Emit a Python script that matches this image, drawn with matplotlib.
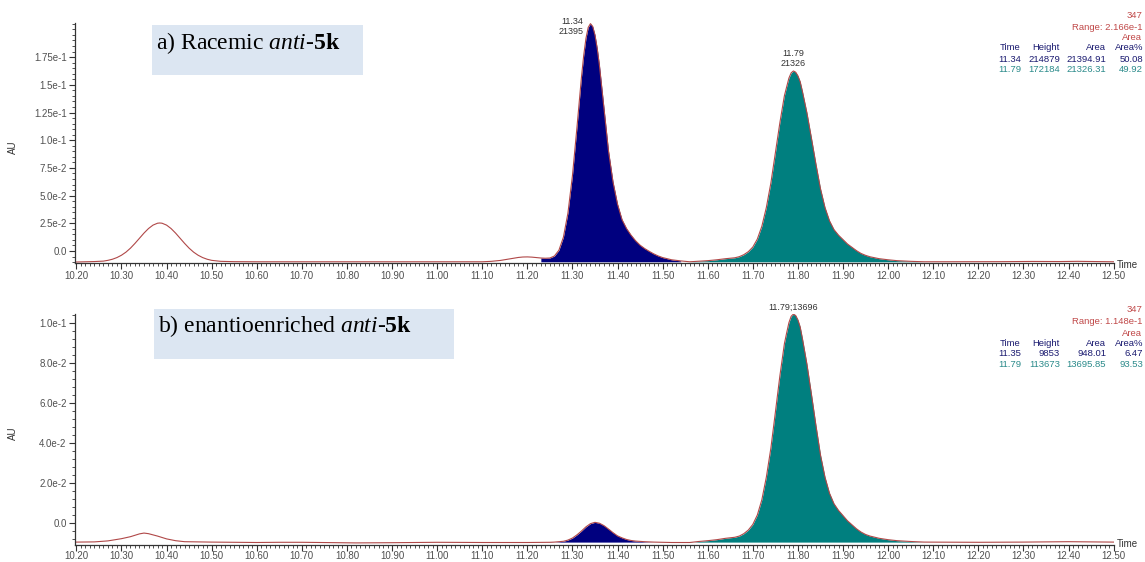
import numpy as np
import matplotlib
matplotlib.use('Agg')
import matplotlib.pyplot as plt
from matplotlib.patches import Rectangle
from matplotlib.ticker import MultipleLocator, FixedLocator, FixedFormatter, FormatStrFormatter

plt.rcParams['font.family'] = ['Liberation Sans', 'DejaVu Sans']
plt.rcParams['mathtext.fontset'] = 'custom'
plt.rcParams['mathtext.rm'] = 'Liberation Serif'
plt.rcParams['mathtext.it'] = 'Liberation Serif:italic'
plt.rcParams['mathtext.bf'] = 'Liberation Serif:bold'

# ---- run a) racemic : time (min) / signal above baseline (AU)
t_a = [10.20, 10.22, 10.24, 10.26, 10.27, 10.28, 10.29, 10.30, 10.31, 10.32, 10.33, 10.34,
       10.35, 10.36, 10.37, 10.38, 10.385, 10.39, 10.40, 10.41, 10.42, 10.43, 10.44, 10.45,
       10.46, 10.47, 10.48, 10.49, 10.50, 10.52, 10.55, 10.60, 10.70, 10.75, 10.80, 10.90,
       11.00, 11.05, 11.10, 11.12, 11.14, 11.16, 11.18, 11.19, 11.20, 11.21, 11.22, 11.23,
       11.24, 11.25, 11.26, 11.27, 11.28, 11.29, 11.30, 11.31, 11.32, 11.325, 11.33, 11.335,
       11.34, 11.345, 11.35, 11.355, 11.36, 11.37, 11.38, 11.39, 11.40, 11.41, 11.42, 11.43,
       11.44, 11.45, 11.46, 11.47, 11.48, 11.49, 11.50, 11.52, 11.54, 11.56, 11.58, 11.60,
       11.62, 11.64, 11.66, 11.67, 11.68, 11.69, 11.70, 11.71, 11.72, 11.73, 11.74, 11.75,
       11.76, 11.77, 11.775, 11.78, 11.785, 11.79, 11.795, 11.80, 11.805, 11.81, 11.82, 11.83,
       11.84, 11.85, 11.86, 11.87, 11.88, 11.89, 11.90, 11.91, 11.92, 11.93, 11.94, 11.95,
       11.96, 11.98, 12.00, 12.02, 12.05, 12.08, 12.15, 12.25, 12.32, 12.38, 12.42, 12.46,
       12.50]
s_a = [-0.0002, 0.0, 0.0002, 0.0006, 0.0013, 0.0023, 0.0038, 0.0059, 0.0087, 0.0123, 0.0166, 0.0212,
       0.0259, 0.0300, 0.0331, 0.0348, 0.0350, 0.0348, 0.0331, 0.0300, 0.0259, 0.0212, 0.0166, 0.0123,
       0.0087, 0.0059, 0.0038, 0.0023, 0.0013, 0.0004, 0.0001, 0.0, 0.0, -0.0001, 0.0, 0.0,
       0.0, 0.0001, 0.0, 0.0004, 0.0012, 0.0025, 0.0039, 0.0043, 0.0044, 0.0042, 0.0038, 0.0034,
       0.0032, 0.0034, 0.0052, 0.0104, 0.0222, 0.0439, 0.0776, 0.1211, 0.1665, 0.1862, 0.2016, 0.2115,
       0.2149, 0.2123, 0.2047, 0.1925, 0.1768, 0.1385, 0.1000, 0.0720, 0.0520, 0.0380, 0.0300, 0.0240,
       0.0190, 0.0150, 0.0120, 0.0095, 0.0072, 0.0053, 0.0038, 0.0018, 0.0008, 0.0, 0.0005, 0.0010,
       0.0018, 0.0028, 0.0036, 0.0046, 0.0064, 0.0091, 0.0133, 0.0205, 0.0320, 0.0490, 0.0710, 0.0980,
       0.1255, 0.1498, 0.1579, 0.1657, 0.1705, 0.1722, 0.1711, 0.1678, 0.1625, 0.1537, 0.1343, 0.1115,
       0.0880, 0.0660, 0.0490, 0.0370, 0.0290, 0.0240, 0.0200, 0.0160, 0.0130, 0.0100, 0.0075, 0.0058,
       0.0045, 0.0028, 0.0018, 0.0010, 0.0004, 0.0, 0.0, 0.0001, 0.0003, 0.0002, 0.0004, 0.0002,
       0.0]
base_a = -0.0097
win_a = [(11.23, 11.54), (11.56, 12.08)]

# ---- run b) enantioenriched
t_b = [10.20, 10.24, 10.27, 10.30, 10.32, 10.34, 10.35, 10.36, 10.38, 10.40, 10.42, 10.44,
       10.50, 10.60, 10.65, 10.70, 10.78, 10.82, 10.90, 11.00, 11.10, 11.20, 11.25, 11.26,
       11.27, 11.28, 11.29, 11.30, 11.31, 11.32, 11.33, 11.34, 11.35, 11.36, 11.37, 11.38,
       11.39, 11.40, 11.41, 11.42, 11.43, 11.44, 11.46, 11.48, 11.52, 11.56, 11.58, 11.60,
       11.62, 11.64, 11.66, 11.67, 11.68, 11.69, 11.70, 11.71, 11.72, 11.73, 11.74, 11.75,
       11.76, 11.77, 11.775, 11.78, 11.785, 11.79, 11.795, 11.80, 11.805, 11.81, 11.82, 11.83,
       11.84, 11.85, 11.86, 11.87, 11.88, 11.89, 11.90, 11.91, 11.92, 11.93, 11.94, 11.95,
       11.96, 11.98, 12.00, 12.02, 12.05, 12.08, 12.20, 12.30, 12.40, 12.50]
s_b = [0.0, 0.0001, 0.0006, 0.0017, 0.0027, 0.0041, 0.0045, 0.0042, 0.0030, 0.0016, 0.0007, 0.0002,
       0.0, -0.0002, -0.0001, -0.0001, -0.0003, -0.0004, -0.0003, -0.0001, -0.0002, -0.0002, -0.0001, 0.0,
       0.0002, 0.0004, 0.0010, 0.0020, 0.0036, 0.0055, 0.0076, 0.0092, 0.00985, 0.0094, 0.0082, 0.0065,
       0.0047, 0.0031, 0.0021, 0.0013, 0.0008, 0.0005, 0.0002, 0.0, -0.0002, -0.0002, 0.0003, 0.0007,
       0.0012, 0.0019, 0.0024, 0.0030, 0.0042, 0.0060, 0.0088, 0.0135, 0.0211, 0.0324, 0.0468, 0.0647,
       0.0829, 0.0989, 0.1043, 0.1094, 0.1126, 0.1137, 0.1130, 0.1108, 0.1073, 0.1015, 0.0887, 0.0737,
       0.0581, 0.0435, 0.0324, 0.0244, 0.0191, 0.0158, 0.0132, 0.0106, 0.0086, 0.0066, 0.0050, 0.0038,
       0.0030, 0.0019, 0.0012, 0.0007, 0.0003, 0.0, -0.0001, 0.0, 0.0002, 0.0]
base_b = -0.0095
win_b = [(11.25, 11.48), (11.56, 12.08)]

# peak tables
a_time = ['11.34', '11.79']
a_height = [214879, 172184]
a_area = [21394.91, 21326.31]
a_pct = [50.08, 49.92]
a_range = '2.166e-1'

b_time = ['11.35', '11.79']
b_height = [9853, 113673]
b_area = [948.01, 13695.85]
b_pct = [6.47, 93.53]
b_range = '1.148e-1'

peak_colors = ['#00007f', '#007f7f']
trace_color = '#b04848'
W, H = 1145, 562

fig = plt.figure(figsize=(W / 100, H / 100), dpi=100)


def fx(px):
    return px / W


def fy(py):
    return 1 - py / H


def panel(rect, t, s, base, wins, ylim, yticks, ylabels, yminor, xpad=2):
    ax = fig.add_axes(rect)
    t = np.array(t)
    y = np.array(s) + base
    for (lo, hi), c in zip(wins, peak_colors):
        m = (t >= lo) & (t <= hi)
        ax.fill_between(t[m], base, y[m], color=c, lw=0)
    ax.plot(t, y, color=trace_color, lw=0.8)
    ax.set_xlim(10.197, 12.50)
    ax.set_ylim(*ylim)
    ax.xaxis.set_major_locator(MultipleLocator(0.1))
    ax.xaxis.set_major_formatter(FormatStrFormatter('%.2f'))
    ax.xaxis.set_minor_locator(MultipleLocator(0.01))
    ax.yaxis.set_major_locator(FixedLocator(yticks))
    ax.yaxis.set_major_formatter(FixedFormatter(ylabels))
    ax.yaxis.set_minor_locator(MultipleLocator(yminor))
    ax.tick_params(which='major', length=4, width=0.8, labelsize=7,
                   labelcolor='#505050', color='#333333', pad=2)
    ax.tick_params(axis='x', which='major', pad=xpad)
    ax.tick_params(which='minor', length=2.5, width=0.6, color='#333333')
    for sp in ['top', 'right']:
        ax.spines[sp].set_visible(False)
    for sp in ['left', 'bottom']:
        ax.spines[sp].set_color('#333333')
        ax.spines[sp].set_linewidth(0.9)
    return ax


ax1 = panel([fx(75), fy(263), fx(1113.6) - fx(75), (263 - 23.3) / H],
            t_a, s_a, base_a, win_a, (-0.0108, 0.2055),
            [0, 0.025, 0.05, 0.075, 0.1, 0.125, 0.15, 0.175],
            ['0.0', '2.5e-2', '5.0e-2', '7.5e-2', '1.0e-1', '1.25e-1', '1.5e-1', '1.75e-1'], 0.005)
ax2 = panel([fx(75), fy(544.5), fx(1113.6) - fx(75), (544.5 - 313.5) / H],
            t_b, s_b, base_b, win_b, (-0.0107, 0.1045),
            [0, 0.02, 0.04, 0.06, 0.08, 0.1],
            ['0.0', '2.0e-2', '4.0e-2', '6.0e-2', '8.0e-2', '1.0e-1'], 0.004, xpad=1)

# peak labels
lab = dict(fontsize=6.5, color='#333333', annotation_clip=False)
ax1.annotate(f'{a_time[0]}\n{round(a_area[0])}', (float(a_time[0]), base_a + a_height[0] / 1e6),
             xytext=(-5, -2), textcoords='offset points', ha='right', va='center',
             linespacing=1.1, **lab)
ax1.annotate(f'{a_time[1]}\n{round(a_area[1])}', (float(a_time[1]), base_a + a_height[1] / 1e6),
             xytext=(0, 2), textcoords='offset points', ha='center', va='bottom',
             linespacing=1.1, **lab)
ax2.annotate(f'{b_time[1]};{round(b_area[1])}', (float(b_time[1]), base_b + b_height[1] / 1e6),
             xytext=(0, 1.5), textcoords='offset points', ha='center', va='bottom', **lab)

# axis captions
for yy in (147, 433):
    fig.text(fx(13), fy(yy), 'AU', rotation=90, ha='center', va='center', fontsize=7, color='#333333')
for yy in (265, 544):
    fig.text(fx(1117), fy(yy), 'Time', ha='left', va='center', fontsize=7, color='#333333')


# peak tables at the top right of each run
def table(y0, rng, times, heights, areas, pcts):
    red = '#c04848'
    kw = dict(fontsize=6.8, ha='right', va='center')
    fig.text(fx(1142), fy(y0), '347', color=red, **kw)
    fig.text(fx(1142), fy(y0 + 12), f'Range: {rng}', color=red, **kw)
    fig.text(fx(1142), fy(y0 + 23), 'Area', color=red, **kw)
    cols = [1021, 1060, 1106, 1143]
    hdr = ['Time', 'Height', 'Area', 'Area%']
    for cx, h in zip(cols, hdr):
        fig.text(fx(cx), fy(y0 + 33), h, color='#1a1a70', **kw)
    for i, c in enumerate(['#1a1a70', '#2a8a8a']):
        row = [times[i], f'{heights[i]}', f'{areas[i]:.2f}', f'{pcts[i]:.2f}']
        for cx, v in zip(cols, row):
            fig.text(fx(cx), fy(y0 + 44 + 10.5 * i), v, color=c, **kw)


table(15, a_range, a_time, a_height, a_area, a_pct)
table(310, b_range, b_time, b_height, b_area, b_pct)

# sample captions on shaded boxes
fig.patches.append(Rectangle((fx(152), fy(75)), fx(363) - fx(152), 50 / H,
                             transform=fig.transFigure, facecolor='#dce6f2', edgecolor='none'))
fig.patches.append(Rectangle((fx(154), fy(359)), fx(454) - fx(154), 50 / H,
                             transform=fig.transFigure, facecolor='#dce6f2', edgecolor='none'))
cap = dict(fontsize=17, family='Liberation Serif', ha='left', va='baseline', color='black')
fig.text(fx(156), fy(49.5), r'a) Racemic $\mathit{anti}$-$\mathbf{5k}$', **cap)
fig.text(fx(158), fy(332.5), r'b) enantioenriched $\mathit{anti}$-$\mathbf{5k}$', **cap)

fig.savefig('out.png', dpi=100)
